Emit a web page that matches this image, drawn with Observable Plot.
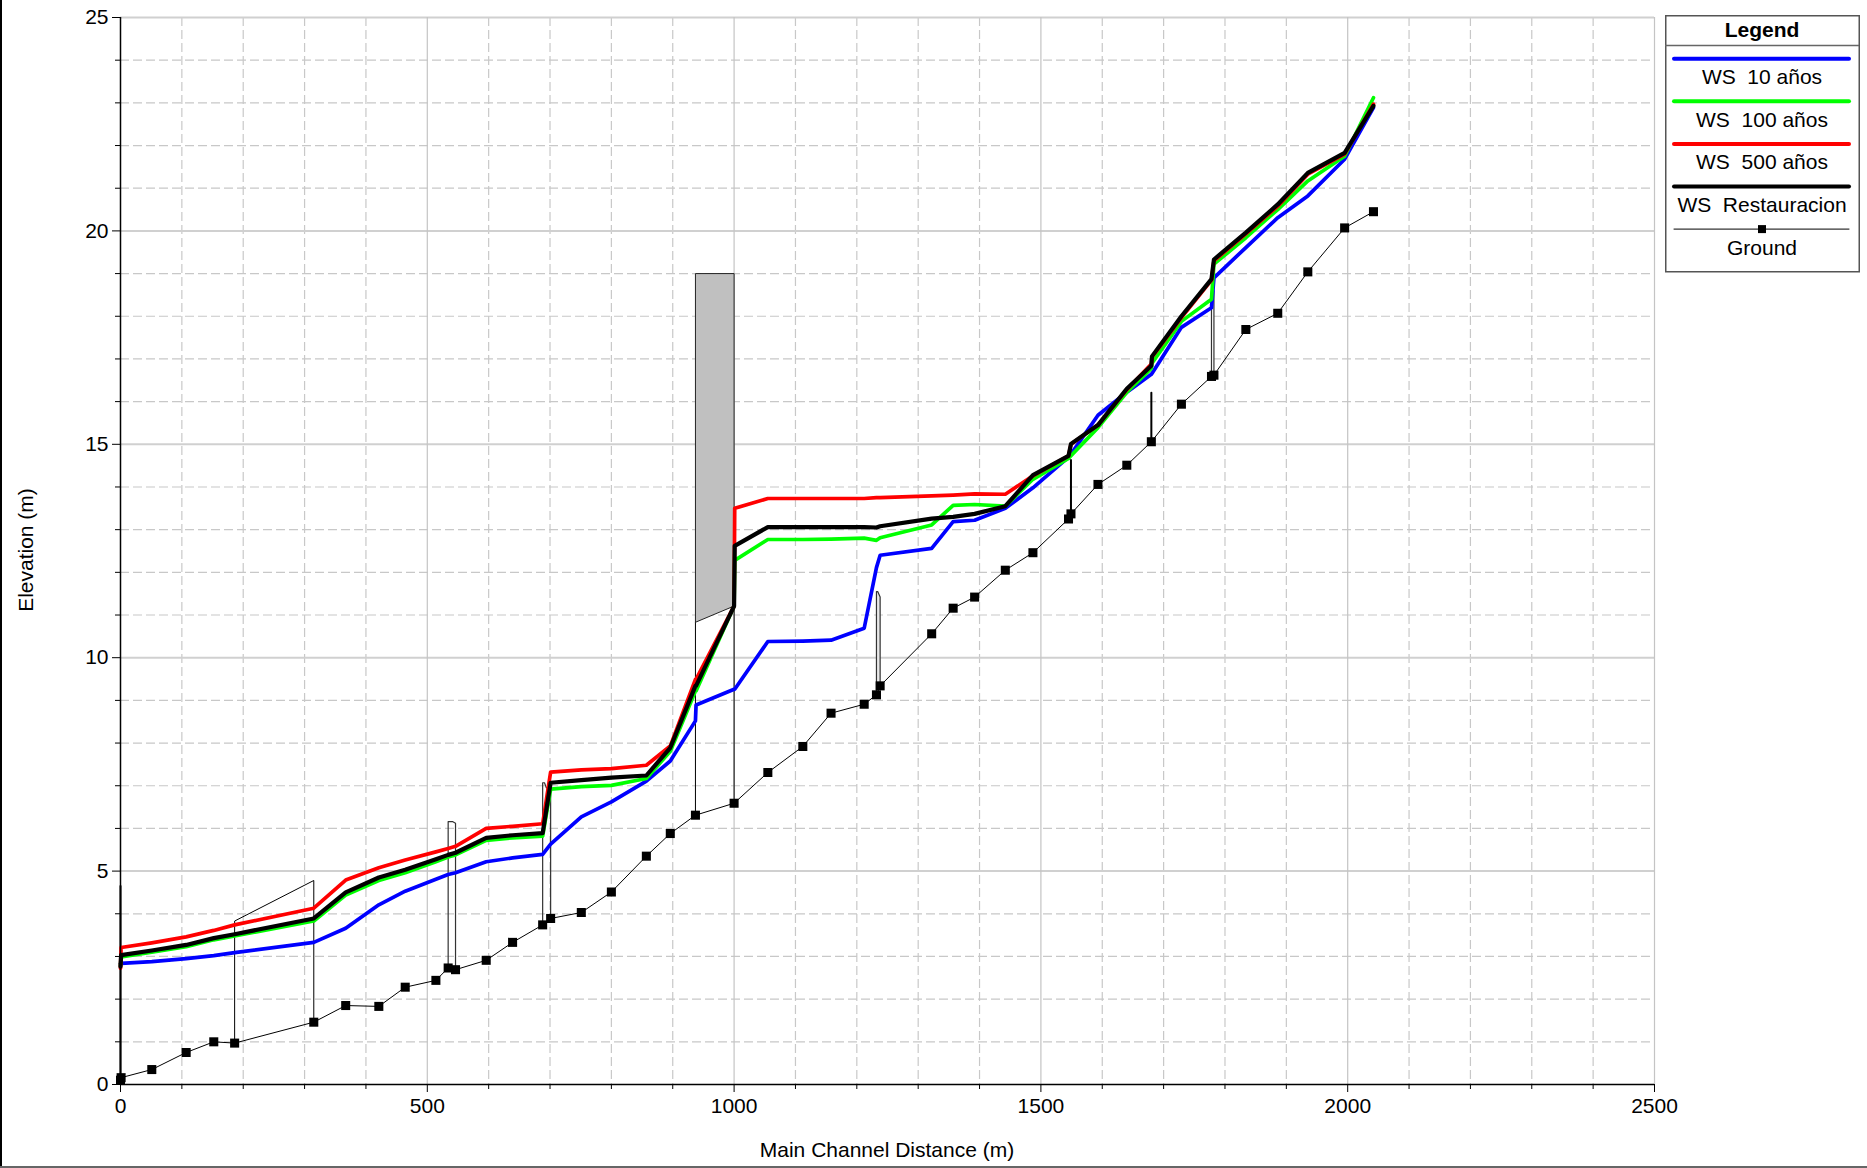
<!DOCTYPE html>
<html><head><meta charset="utf-8">
<script src="https://cdn.jsdelivr.net/npm/d3@7"></script>
<script src="https://cdn.jsdelivr.net/npm/@observablehq/plot@0.6"></script>
<style>
html,body{margin:0;padding:0;background:#fff;}
#wrap{position:relative;width:1867px;height:1168px;overflow:hidden;font-family:"Liberation Sans",Arial,sans-serif;color:#000;}
#chart{position:absolute;left:0;top:0;}
.lbl{position:absolute;font-size:21px;white-space:nowrap;line-height:21px;}
#frameL{position:absolute;left:0;top:0;width:2px;height:1168px;background:#000;}
#frameB{position:absolute;left:0;top:1166px;width:1867px;height:2px;background:#666;}
#legend{position:absolute;left:1665px;top:15px;}
</style></head><body>
<div id="wrap">
<div id="chart"></div>
<div class="lbl" id="ytitle" style="left:24.5px;top:550px;transform:translate(-50%,-50%) rotate(-90deg);">Elevation (m)</div>
<div class="lbl" id="xtitle" style="left:887px;top:1149px;transform:translate(-50%,-50%);">Main Channel Distance (m)</div>
<svg id="legend" width="196" height="259" font-family="Liberation Sans, Arial, sans-serif" font-size="21"></svg>
<div id="frameL"></div><div id="frameB"></div>
</div>
<script>
// ---- axis ticks ----
const xMajor = [0, 500, 1000, 1500, 2000, 2500];
const xMinor = d3.range(100, 2500, 100).filter(v => v % 500 !== 0);
const yMajor = [0, 5, 10, 15, 20, 25];
const yMinor = d3.range(1, 25, 1).filter(v => v % 5 !== 0);

// ---- water surface stations (m) ----
const wsX = [0, 1, 51, 107, 152, 186, 315, 367, 421, 464, 514, 534, 546, 596, 639, 688, 701, 751, 800, 857, 896, 937, 938, 1000, 1001, 1055, 1112, 1158, 1212, 1232, 1238, 1322, 1357, 1392, 1442, 1487, 1545, 1549, 1593, 1640, 1680, 1681, 1729, 1778, 1782, 1834, 1886, 1935, 1995, 2042];
const ws10 = [2.83, 2.84, 2.88, 2.95, 3.02, 3.09, 3.33, 3.66, 4.21, 4.53, 4.81, 4.92, 4.96, 5.22, 5.31, 5.39, 5.63, 6.27, 6.62, 7.11, 7.58, 8.52, 8.89, 9.26, 9.26, 10.38, 10.39, 10.41, 10.69, 12.11, 12.40, 12.56, 13.19, 13.22, 13.50, 13.98, 14.70, 14.77, 15.68, 16.22, 16.64, 16.66, 17.74, 18.20, 18.90, 19.61, 20.31, 20.82, 21.68, 22.89];
const ws100 = [2.78, 2.99, 3.10, 3.23, 3.39, 3.48, 3.83, 4.44, 4.78, 4.96, 5.22, 5.33, 5.38, 5.72, 5.78, 5.82, 6.92, 6.98, 7.01, 7.17, 7.81, 9.22, 9.22, 11.21, 12.28, 12.77, 12.77, 12.78, 12.80, 12.75, 12.81, 13.11, 13.57, 13.59, 13.55, 14.18, 14.67, 14.73, 15.39, 16.22, 16.78, 16.90, 17.88, 18.40, 19.22, 19.84, 20.50, 21.17, 21.75, 23.12];
const ws500 = [2.72, 3.21, 3.32, 3.46, 3.61, 3.74, 4.13, 4.79, 5.08, 5.26, 5.45, 5.53, 5.58, 6.00, 6.05, 6.11, 7.32, 7.37, 7.40, 7.48, 7.93, 9.49, 9.49, 11.21, 13.50, 13.73, 13.73, 13.73, 13.73, 13.75, 13.75, 13.79, 13.81, 13.84, 13.83, 14.26, 14.73, 15.00, 15.45, 16.28, 16.88, 17.04, 17.97, 18.85, 19.30, 19.93, 20.58, 21.33, 21.80, 22.97];
const wsRest = [2.76, 3.03, 3.14, 3.27, 3.43, 3.52, 3.89, 4.50, 4.85, 5.03, 5.28, 5.38, 5.43, 5.78, 5.84, 5.89, 7.07, 7.13, 7.19, 7.24, 7.89, 9.34, 9.34, 11.21, 12.62, 13.06, 13.06, 13.06, 13.06, 13.05, 13.08, 13.26, 13.30, 13.37, 13.55, 14.28, 14.73, 15.01, 15.45, 16.30, 16.84, 17.06, 18.00, 18.87, 19.33, 19.96, 20.62, 21.36, 21.83, 22.93];

// ---- ground ----
const groundX = [0, 1, 51, 107, 152, 186, 315, 367, 421, 464, 514, 534, 546, 596, 639, 688, 701, 751, 800, 857, 896, 937, 1000, 1055, 1112, 1158, 1212, 1232, 1238, 1322, 1357, 1392, 1442, 1487, 1545, 1549, 1593, 1640, 1680, 1729, 1778, 1782, 1834, 1886, 1935, 1995, 2042];
const groundY = [0.10, 0.16, 0.35, 0.75, 1.00, 0.97, 1.46, 1.85, 1.83, 2.28, 2.44, 2.73, 2.69, 2.91, 3.33, 3.74, 3.89, 4.03, 4.51, 5.35, 5.88, 6.31, 6.59, 7.31, 7.92, 8.70, 8.91, 9.13, 9.34, 10.56, 11.16, 11.42, 12.05, 12.46, 13.25, 13.37, 14.06, 14.51, 15.06, 15.94, 16.59, 16.62, 17.69, 18.07, 19.04, 20.07, 20.45];

// ---- structures [station, elevation] ----
const wall0 = [[0, 0.10], [0, 4.65]];
const bridge186 = [[186, 0.97], [186, 3.83], [315, 4.78], [315, 1.46]];
const bridge534 = [[534, 2.73], [534, 6.16], [541, 6.16], [546, 6.12], [546, 2.69]];
const bridge688 = [[688, 3.74], [688, 7.07], [691, 7.07], [694, 6.95], [701, 6.95], [701, 3.89]];
const weirBox = [[937, 10.83], [937, 19.0], [1000, 19.0], [1000, 11.21], [937, 10.83]];
const weirLeg1 = [[937, 6.31], [937, 10.83]];
const weirLeg2 = [[1000, 6.59], [1000, 11.21]];
const bridge1232 = [[1232, 9.13], [1232, 11.55], [1234, 11.55], [1238, 11.42], [1238, 9.34]];
const post1549 = [[1549, 13.37], [1549, 14.63]];
const post1680 = [[1680, 15.06], [1680, 16.21]];
const bridge1778 = [[1778, 16.59], [1778, 18.60], [1782, 18.60], [1782, 16.62]];

const series = (xs, ys) => xs.map((x, i) => ({x, y: ys[i]}));
const P = {x: d => d[0], y: d => d[1]};

const chart = Plot.plot({
  width: 1867, height: 1168,
  marginLeft: 120, marginRight: 213, marginTop: 17, marginBottom: 84,
  x: {domain: [0, 2500]},
  y: {domain: [0, 25]},
  style: {fontFamily: "Liberation Sans, Arial, sans-serif", fontSize: "21px", color: "black", background: "white", overflow: "visible"},
  marks: [
    Plot.ruleY(yMinor, {stroke: "#c8c8c8", strokeWidth: 1.2, strokeDasharray: "9,4"}),
    Plot.ruleX(xMinor, {stroke: "#c8c8c8", strokeWidth: 1.2, strokeDasharray: "9,4"}),
    Plot.ruleY(yMajor.filter(v => v > 0), {stroke: "#d0d0d0", strokeWidth: 2}),
    Plot.ruleX(xMajor.filter(v => v > 0), {stroke: "#c4c4c4", strokeWidth: 1.2}),
    // structures
    Plot.line(wall0, {...P, stroke: "black", strokeWidth: 2}),
    Plot.line(bridge186, {...P, stroke: "black", strokeWidth: 1}),
    Plot.line(bridge534, {...P, stroke: "#333", strokeWidth: 1.2}),
    Plot.line(bridge688, {...P, stroke: "#333", strokeWidth: 1.2}),
    Plot.line(weirLeg1, {...P, stroke: "black", strokeWidth: 1}),
    Plot.line(weirLeg2, {...P, stroke: "black", strokeWidth: 1}),
    Plot.line(weirBox, {...P, fill: "#c0c0c0", stroke: "#222", strokeWidth: 1}),
    Plot.line(bridge1232, {...P, fill: "#e8e8e8", stroke: "#333", strokeWidth: 1.2}),
    Plot.line(post1549, {...P, stroke: "black", strokeWidth: 2}),
    Plot.line(post1680, {...P, stroke: "black", strokeWidth: 2}),
    Plot.line(bridge1778, {...P, fill: "white", stroke: "#333", strokeWidth: 1.2}),
    // water surfaces
    Plot.line(series(wsX, ws10), {x: "x", y: "y", stroke: "#0000ff", strokeWidth: 3.7}),
    Plot.line(series(wsX, ws100), {x: "x", y: "y", stroke: "#00ff00", strokeWidth: 3.7}),
    Plot.line(series(wsX, ws500), {x: "x", y: "y", stroke: "#ff0000", strokeWidth: 3.7}),
    Plot.line(series(wsX, wsRest), {x: "x", y: "y", stroke: "#000000", strokeWidth: 4.2}),
    // ground
    Plot.line(series(groundX, groundY), {x: "x", y: "y", stroke: "black", strokeWidth: 1}),
    Plot.dot(series(groundX, groundY), {x: "x", y: "y", symbol: "square", r: 5.1, fill: "black", stroke: "none"}),
    // axes
    Plot.axisX({ticks: xMajor, tickSize: 8, tickPadding: 6, label: null, fontSize: 21, tickFormat: d => String(d)}),
    Plot.axisX({ticks: xMinor, tickSize: 5, label: null, tickFormat: () => ""}),
    Plot.axisY({ticks: yMajor, tickSize: 8, tickPadding: 4, label: null, fontSize: 21, tickFormat: d => String(d)}),
    Plot.axisY({ticks: yMinor, tickSize: 5, label: null, tickFormat: () => ""}),
    Plot.ruleX([0], {y1: 0, y2: 25, stroke: "black", strokeWidth: 1.5}),
    Plot.ruleY([0], {x1: 0, x2: 2500, stroke: "black", strokeWidth: 1.5})
  ]
});
document.getElementById("chart").appendChild(chart);

// ---- legend ----
const legendItems = [
  {label: "WS  10 años", color: "#0000ff", width: 4, marker: false},
  {label: "WS  100 años", color: "#00ff00", width: 4, marker: false},
  {label: "WS  500 años", color: "#ff0000", width: 4, marker: false},
  {label: "WS  Restauracion", color: "#000000", width: 4, marker: false},
  {label: "Ground", color: "#000000", width: 1, marker: true}
];
const lg = d3.select("#legend");
lg.append("rect").attr("x", 0.75).attr("y", 0.75).attr("width", 193.5).attr("height", 256).attr("fill", "white").attr("stroke", "#555").attr("stroke-width", 1.5);
lg.append("line").attr("x1", 0).attr("x2", 194).attr("y1", 30.5).attr("y2", 30.5).attr("stroke", "#666").attr("stroke-width", 1.5);
lg.append("text").attr("x", 97).attr("y", 21.5).attr("text-anchor", "middle").attr("font-weight", "bold").text("Legend");
legendItems.forEach((it, i) => {
  const ly = 43.7 + i * 42.6;
  lg.append("line").attr("x1", 9).attr("x2", 184).attr("y1", ly).attr("y2", ly).attr("stroke", it.color).attr("stroke-width", it.width).attr("stroke-linecap", "round");
  if (it.marker) lg.append("rect").attr("x", 93).attr("y", ly - 4).attr("width", 8).attr("height", 8).attr("fill", "black");
  lg.append("text").attr("x", 97).attr("y", ly + 25.5).attr("text-anchor", "middle").attr("xml:space", "preserve").style("white-space", "pre").text(it.label);
});
</script>
</body></html>
